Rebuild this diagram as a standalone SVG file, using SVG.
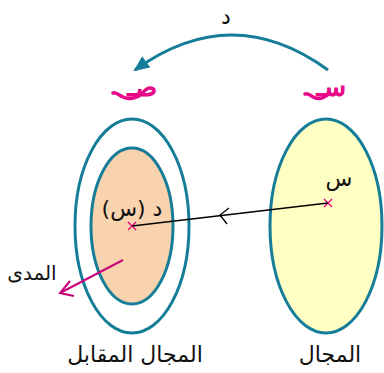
<svg xmlns="http://www.w3.org/2000/svg" width="384" height="373" viewBox="0 0 384 373">
<style>
.set{stroke:#167d98;stroke-width:3}
.t{font-family:"DejaVu Sans","Noto Sans Arabic","Noto Sans",sans-serif;fill:#111;text-anchor:middle}
.pk{fill:#e8088a;stroke:#e8088a;stroke-width:1.2;font-size:26px;text-anchor:end}
.tl{fill:none;stroke:#e8088a;stroke-width:3.5;stroke-linecap:round}
.x{stroke:#e5007d;stroke-width:1.3;fill:none}
</style>
<defs>
<marker id="tealHead" markerWidth="16" markerHeight="14" refX="14" refY="7" orient="auto" markerUnits="userSpaceOnUse" viewBox="0 0 16 14">
<path d="M0,0 L16,7 L0,14 Z" fill="#167d98"/>
</marker>
</defs>
<rect width="384" height="373" fill="#fff"/>
<g id="codomain">
<ellipse class="set" cx="132" cy="226" rx="57" ry="107" fill="#fff"/>
</g>
<g id="range">
<ellipse class="set" cx="132" cy="226" rx="41" ry="78" fill="#f9d2ae" stroke-width="2.2"/>
<path class="x" d="M128,222 L136,230 M136,222 L128,230"/>
<text class="t" x="132" y="216" font-size="22">د (س)</text>
</g>
<g id="domain">
<ellipse class="set" cx="326" cy="226" rx="56" ry="107" fill="#ffffc4"/>
<path class="x" d="M324,199 L332,207 M332,199 L324,207"/>
<text class="t" x="339" y="186" font-size="22">س</text>
</g>
<g id="connectors">
<path d="M328,70 Q232,0 135,70" fill="none" stroke="#167d98" stroke-width="3" marker-end="url(#tealHead)"/>
<line x1="328" y1="203" x2="132" y2="226" stroke="#000" stroke-width="1.3"/>
<path d="M229,208 L220,215 L227,224" fill="none" stroke="#000" stroke-width="1.3"/>
<line x1="123" y1="260" x2="60" y2="293" stroke="#c8007a" stroke-width="2"/>
<path d="M70,281 L60,293 L74,296" fill="none" stroke="#c8007a" stroke-width="2"/>
</g>
<g id="labels">
<text class="t" x="226" y="24" font-size="22">د</text>
<text class="t pk" x="157" y="96">صـ</text>
<path class="tl" d="M142,94 C136,98 129,100 123,97 C119,95 116,92 113,93"/>
<text class="t pk" x="346" y="96">سـ</text>
<path class="tl" d="M329,94 C324,98 318,100 313,97 C310,95 308,93 305,94"/>
<text class="t" x="32" y="280" font-size="20">المدى</text>
<text class="t" x="135" y="362" font-size="22">المجال المقابل</text>
<text class="t" x="330" y="362" font-size="22">المجال</text>
</g>
</svg>
